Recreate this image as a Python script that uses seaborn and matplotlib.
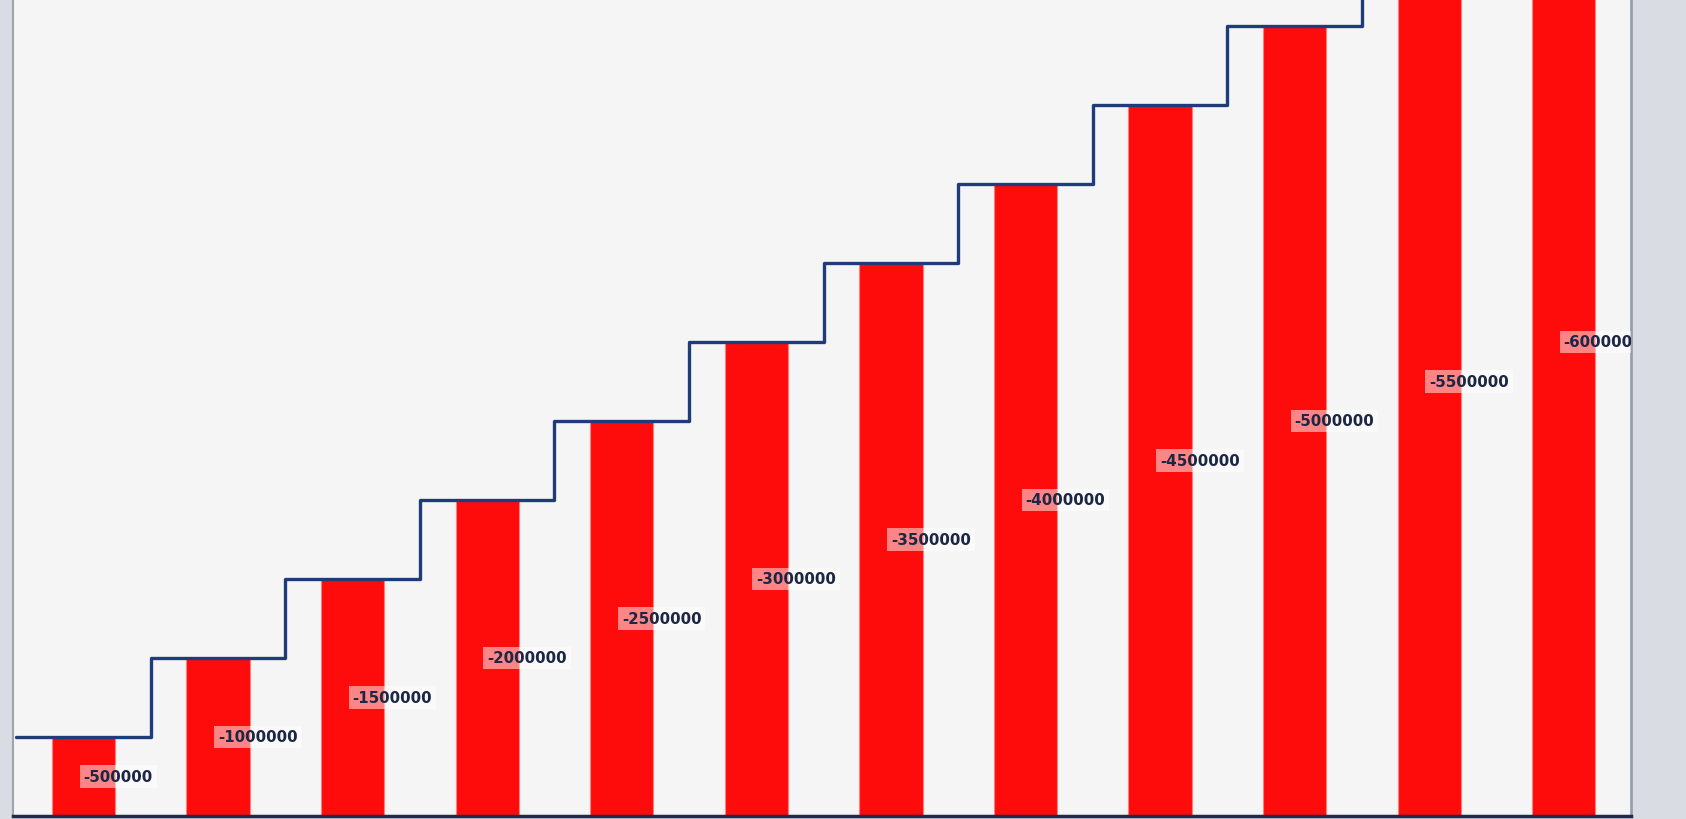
import numpy as np
import pandas as pd
import seaborn as sns
import matplotlib.pyplot as plt

# Datos
categorias = [str(i) for i in range(1, 13)]
valores = [-500000, -1000000, -1500000, -2000000, -2500000, -3000000,
           -3500000, -4000000, -4500000, -5000000, -5500000, -6000000]

df = pd.DataFrame({"Categoria": categorias, "Valor": valores})

sns.set_theme(style="white")
plt.rcParams["font.family"] = ["DejaVu Sans"]

fig = plt.figure(figsize=(16.86, 8.2), dpi=100, facecolor="#d9dce2")
ax = fig.add_axes([13 / 1686, 3 / 820, 1618 / 1686, 817 / 820])
ax.set_facecolor("#f5f5f5")

# Barras
sns.barplot(data=df, x="Categoria", y="Valor", color="#fe0c0c", saturation=1,
            width=0.47, edgecolor="#ff8080", linewidth=0.8, ax=ax)

# Linea escalonada sobre las barras
bordes = np.arange(len(valores) + 1) - 0.5
ax.step(bordes, valores + [valores[-1]], where="post",
        color="#1f3b7a", linewidth=2.4, zorder=3)

# Etiquetas en el centro de cada barra
for i, v in enumerate(valores):
    ax.text(i, v / 2, f"{v}", ha="left", va="center", fontsize=10.8,
            fontweight="bold", color="#1c2745", clip_on=True, zorder=4,
            bbox=dict(facecolor="white", alpha=0.5, edgecolor="none", pad=2.8))

ax.set_xlim(-0.524, 11.5)
ax.set_ylim(0, -5170000)
ax.set(xlabel=None, ylabel=None)
ax.set_yticks([])
ax.set_xticks(bordes)
ax.set_xticklabels([])
ax.tick_params(axis="x", length=4, width=1.2, color="#1f2a4a", direction="out")

ax.spines["top"].set_visible(False)
ax.spines["left"].set_color("#a0a4ad")
ax.spines["left"].set_linewidth(1.5)
ax.spines["right"].set_color("#9a9ea8")
ax.spines["right"].set_linewidth(2)
ax.spines["bottom"].set_color("#1f2a4a")
ax.spines["bottom"].set_linewidth(2.5)

plt.savefig("out.png", dpi=100, facecolor=fig.get_facecolor())
